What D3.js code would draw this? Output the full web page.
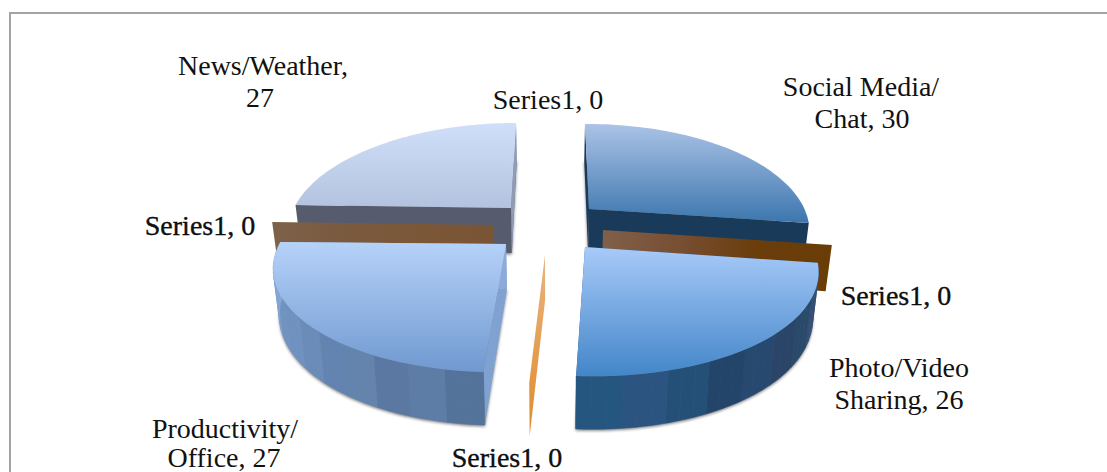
<!DOCTYPE html>
<html>
<head>
<meta charset="utf-8">
<style>
  html, body { margin: 0; padding: 0; background: #fff; overflow: hidden; }
  text { font-family: "Liberation Serif", serif; font-size: 28px; fill: #111; text-anchor: middle; }
</style>
<script src="https://cdn.jsdelivr.net/npm/d3@7"></script>
</head>
<body>
<div id="viz"></div>
<script>
// chart data, clockwise from 12 o'clock
var categories = ["Social Media/Chat", "Series1", "Photo/Video Sharing", "Series1", "Productivity/Office", "Series1", "News/Weather", "Series1"];
var values = [30, 0, 26, 0, 27, 0, 27, 0];

var width = 1107, height = 472;

// perspective of the tilted pie: k makes the near side bigger than the far side
var k = 0.2;
var vanishX = 550;

// where each exploded slice sits on the page (c = apex, a and b = its in-plane axes)
var placement = [
  {c: [589, 209], a: [215, -1],    b: [4.8, 102]},
  {c: [603, 230], a: [224.6, 0],   b: [0, 103]},
  {c: [585, 247], a: [227.6, 0.7], b: [5.9, 103.4]},
  {c: [545, 255], a: [225, 0],     b: [0.2, 102.6]},
  {c: [506, 244], a: [227, -0.9],  b: [-5.1, 102.6]},
  {c: [493, 225], a: [222.2, 0.1], b: [0, 103]},
  {c: [511, 208], a: [217, 0],     b: [-6, 102]},
  {c: [511, 208], a: [217, 0],     b: [-6, 102]}
];

// colours: top gradient, rim facets (none on the back slices), walls at slice start and end
var looks = [
  {top: ["#abc3e6", "#3c76ae"], rim: [], start: "#1b3a5a", end: "#1a3a5a"},
  {start: ["#80604a", "#774f33", "#6b3d0c", "#6a3c06"]},
  {top: ["#a8caf9", "#4386c8"], rim: ["#3d5478", "#344f74", "#2a4a6c", "#2a4568", "#28496f", "#234569", "#245078", "#2b5480", "#25567f"], start: "#2b5480", end: "#25567f"},
  {start: ["#e9b482", "#e08a28"], vertical: true},
  {top: ["#b6d2f9", "#7099d0"], rim: ["#54739b", "#5d7ca6", "#5a78a2", "#6484ae", "#6384b0", "#6b8cb8", "#7092c0", "#7094c2", "#7c9ccb", "#86a6d4", "#8dabd8"], start: "#7fa2d2", end: "#8dabd8"},
  {start: ["#7d6149", "#7a5a3f", "#7a5737", "#7a5535"]},
  {top: ["#d0dff9", "#b3c3df"], rim: [], start: "#565c6e", end: "#8e9cb6"},
  {start: ["#8e9cb6"]}
];

// labels: centre x and baseline of each line
var labelSpots = [
  {lines: ["Social Media/", "Chat, 30"], x: [861, 862], y: [96, 128]},
  {x: [896], y: [305], heavy: true},
  {lines: ["Photo/Video", "Sharing, 26"], x: [899, 899], y: [377, 409]},
  {x: [507], y: [467], heavy: true},
  {lines: ["Productivity/", "Office, 27"], x: [225, 224], y: [438, 467]},
  {x: [200], y: [235], heavy: true},
  {lines: ["News/Weather,", "27"], x: [263, 260], y: [75, 107]},
  {x: [548], y: [109]}
];

// back to front
var drawOrder = [7, 6, 0, 5, 1, 4, 2, 3];

var svg = d3.select("#viz").append("svg")
  .attr("width", width)
  .attr("height", height)
  .style("display", "block");

var defs = svg.append("defs");
defs.append("filter").attr("id", "soft")
  .attr("x", "-10%").attr("y", "-10%").attr("width", "120%").attr("height", "120%")
  .append("feGaussianBlur").attr("stdDeviation", 1.6);

// chart frame, it runs off the right and bottom of the page
svg.append("rect")
  .attr("x", 10).attr("y", 13)
  .attr("width", 1120).attr("height", 480)
  .attr("fill", "#fff")
  .attr("stroke", "#a3a3a3")
  .attr("stroke-width", 2);

var arcs = d3.pie().sort(null).value(function(d) { return d; })
  .startAngle(0).endAngle(2 * Math.PI)(values);

var path = d3.line();

// point on the top of a slice, r = 0 at the apex and 1 on the rim
function project(i, angle, r)
{
  var p = placement[i];
  var x = r * Math.sin(angle), y = -r * Math.cos(angle);
  var w = 1 - k * y;
  return [p.c[0] + (x * p.a[0] + y * p.b[0]) / w,
          p.c[1] + (x * p.a[1] + y * p.b[1]) / w];
}

// same point pushed down to the underside
function drop(i, angle, r)
{
  var q = project(i, angle, r);
  var y = -r * Math.cos(angle);
  return [q[0] - (q[0] - vanishX) * 0.022, q[1] + 45 + 8 * y];
}

function rimAngles(a0, a1, n)
{
  return d3.range(n + 1).map(function(j) { return a0 + (a1 - a0) * j / n; });
}

function wallPoints(i, angle)
{
  return [project(i, angle, 0), project(i, angle, 1), drop(i, angle, 1), drop(i, angle, 0)];
}

// fill for a wall: plain colour or a gradient made from a list of stops
function wallFill(i, colors, vertical, name)
{
  if (typeof colors === "string") return colors;
  if (colors.length == 1) return colors[0];
  var id = "wall" + name + i;
  var g = defs.append("linearGradient").attr("id", id)
    .attr("x1", 0).attr("y1", 0)
    .attr("x2", vertical ? 0 : 1).attr("y2", vertical ? 1 : 0);
  colors.forEach(function(c, j) {
    g.append("stop").attr("offset", j / (colors.length - 1)).attr("stop-color", c);
  });
  return "url(#" + id + ")";
}

drawOrder.forEach(function(i) {
  var d = arcs[i], look = looks[i];
  var g = svg.append("g").attr("class", "slice");

  if (d.value == 0)
  {
    g.append("path")
      .attr("d", path(wallPoints(i, d.startAngle)) + "Z")
      .attr("fill", wallFill(i, look.start, look.vertical, "s"));
    return;
  }

  var steps = rimAngles(d.startAngle, d.endAngle, 60);
  var sector = steps.map(function(a) { return project(i, a, 1); });
  sector.unshift(project(i, 0, 0));
  var floor = steps.map(function(a) { return drop(i, a, 1); });
  floor.unshift(drop(i, 0, 0));

  // soft shadow on the page under the slice
  g.append("path")
    .attr("d", path(floor.map(function(q) { return [q[0], q[1] + 1.5]; })) + "Z")
    .attr("fill", "#000")
    .attr("opacity", 0.5)
    .attr("filter", "url(#soft)");

  g.append("path").attr("d", path(wallPoints(i, d.startAngle)) + "Z").attr("fill", look.start);
  g.append("path").attr("d", path(wallPoints(i, d.endAngle)) + "Z").attr("fill", look.end);

  // outer wall in narrow facets
  var n = look.rim.length * 3;
  d3.range(n).forEach(function(j) {
    var a0 = d.startAngle + (d.endAngle - d.startAngle) * j / n;
    var a1 = d.startAngle + (d.endAngle - d.startAngle) * (j + 1) / n;
    var aa = rimAngles(a0, a1, 4);
    var quad = aa.map(function(a) { return project(i, a, 1); })
      .concat(aa.slice().reverse().map(function(a) { return drop(i, a, 1); }));
    var col = look.rim[Math.floor(j / 3)];
    g.append("path").attr("d", path(quad) + "Z")
      .attr("fill", col).attr("stroke", col).attr("stroke-width", 0.5);
  });

  // top face
  var id = "top" + i;
  var grad = defs.append("linearGradient").attr("id", id)
    .attr("x1", 0).attr("y1", 0).attr("x2", 0).attr("y2", 1);
  grad.append("stop").attr("offset", 0).attr("stop-color", look.top[0]);
  grad.append("stop").attr("offset", 1).attr("stop-color", look.top[1]);
  g.append("path").attr("d", path(sector) + "Z").attr("fill", "url(#" + id + ")");
});

// labels
labelSpots.forEach(function(s, i) {
  var lines = s.lines || [categories[i] + ", " + values[i]];
  lines.forEach(function(t, j) {
    var label = svg.append("text")
      .attr("x", s.x[j])
      .attr("y", s.y[j])
      .text(t);
    if (s.heavy) label.attr("stroke", "#000").attr("stroke-width", 0.35);
  });
});
</script>
</body>
</html>
